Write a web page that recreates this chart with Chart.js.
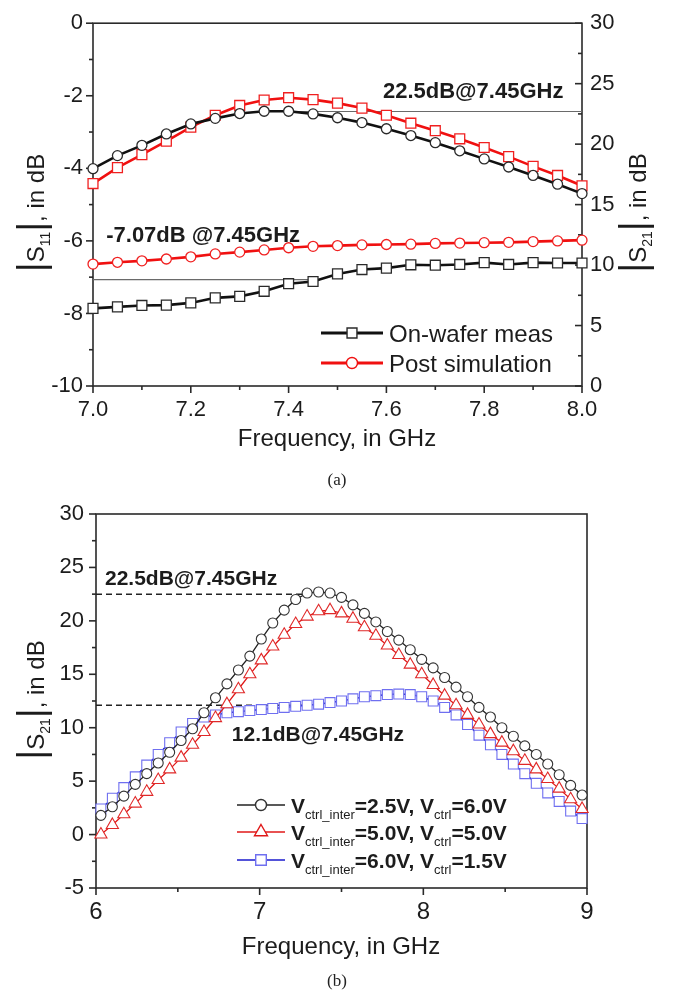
<!DOCTYPE html>
<html>
<head>
<meta charset="utf-8">
<script src="https://cdn.jsdelivr.net/npm/chart.js@4.4.0/dist/chart.umd.min.js"></script>
<style>
  body { margin: 0; background: #fff; width: 674px; height: 994px; position: relative; overflow: hidden; }
  canvas { position: absolute; left: 0; }
  #ca { top: 0; }
  #cb { top: 470px; }
  .cap { position: absolute; left: 0; width: 674px; text-align: center; font: 17px "Liberation Serif", "Times New Roman", serif; color: #222; line-height: 20px; }
</style>
</head>
<body>
<canvas id="ca" width="674" height="470"></canvas>
<canvas id="cb" width="674" height="524"></canvas>
<div class="cap" style="top:470px">(a)</div>
<div class="cap" style="top:971px">(b)</div>
<script>
// ---- (a) S11 / S21 vs frequency, 7-8 GHz ----
const freqA = [7.00, 7.05, 7.10, 7.15, 7.20, 7.25, 7.30, 7.35, 7.40, 7.45, 7.50,
               7.55, 7.60, 7.65, 7.70, 7.75, 7.80, 7.85, 7.90, 7.95, 8.00];
const s21MeasA = [17.97, 19.05, 19.90, 20.84, 21.67, 22.13, 22.53, 22.72, 22.72, 22.50, 22.18,
                  21.78, 21.27, 20.71, 20.12, 19.45, 18.78, 18.11, 17.41, 16.69, 15.91];
const s21SimA = [16.74, 18.06, 19.13, 20.25, 21.40, 22.39, 23.20, 23.65, 23.84, 23.68, 23.39,
                 22.98, 22.39, 21.73, 21.11, 20.44, 19.72, 18.97, 18.16, 17.41, 16.56];
const s11SimA = [-6.64, -6.59, -6.55, -6.50, -6.44, -6.36, -6.31, -6.25, -6.19, -6.15, -6.13,
                 -6.11, -6.10, -6.09, -6.07, -6.06, -6.05, -6.04, -6.02, -6.00, -5.98];
const s11MeasA = [-7.86, -7.82, -7.78, -7.77, -7.71, -7.57, -7.53, -7.39, -7.18, -7.12, -6.91,
                  -6.79, -6.75, -6.66, -6.67, -6.65, -6.60, -6.65, -6.60, -6.61, -6.61];
const xTicksA = [7.0, 7.2, 7.4, 7.6, 7.8, 8.0];
const s11TicksA = [-10, -8, -6, -4, -2, 0];
const s21TicksA = [0, 5, 10, 15, 20, 25, 30];
const legendA = ['On-wafer meas', 'Post simulation'];
const peakA = { level: 22.7, from: 7.4, to: 8.0, label: '22.5dB@7.45GHz' };
const s11MarkA = { level: -7.07, from: 7.0, to: 7.45, label: '-7.07dB @7.45GHz' };

// ---- (b) S21 for three bias settings, 6-9 GHz ----
const freqB = [6.03, 6.10, 6.17, 6.24, 6.31, 6.38, 6.45, 6.52, 6.59, 6.66, 6.73, 6.80, 6.87, 6.94,
               7.01, 7.08, 7.15, 7.22, 7.29, 7.36, 7.43, 7.50, 7.57, 7.64, 7.71, 7.78, 7.85, 7.92,
               7.99, 8.06, 8.13, 8.20, 8.27, 8.34, 8.41, 8.48, 8.55, 8.62, 8.69, 8.76, 8.83, 8.90, 8.97];
const s21BiasA = [1.8, 2.6, 3.6, 4.7, 5.7, 6.7, 7.7, 8.8, 9.9, 11.4, 12.8, 14.1, 15.4, 16.7,
                  18.3, 19.8, 21.0, 22.0, 22.6, 22.7, 22.6, 22.2, 21.5, 20.7, 19.9, 19.0, 18.2, 17.3,
                  16.4, 15.6, 14.7, 13.8, 12.9, 11.9, 11.0, 10.0, 9.2, 8.3, 7.5, 6.6, 5.6, 4.6, 3.7];
const s21BiasB = [0.0, 0.9, 1.9, 2.9, 4.0, 5.1, 6.1, 7.2, 8.4, 9.6, 10.9, 12.2, 13.6, 15.0,
                  16.3, 17.6, 18.7, 19.7, 20.4, 20.9, 21.0, 20.7, 20.2, 19.4, 18.6, 17.7, 16.8, 15.9,
                  15.0, 14.0, 13.0, 12.1, 11.2, 10.3, 9.4, 8.6, 7.8, 6.9, 6.1, 5.2, 4.3, 3.3, 2.4];
const s21BiasC = [2.4, 3.4, 4.4, 5.4, 6.5, 7.5, 8.6, 9.6, 10.4, 11.0, 11.2, 11.4, 11.5, 11.6,
                  11.7, 11.8, 11.9, 12.0, 12.1, 12.2, 12.35, 12.5, 12.7, 12.9, 13.0, 13.1, 13.15, 13.1,
                  12.9, 12.5, 11.9, 11.2, 10.3, 9.3, 8.4, 7.5, 6.6, 5.7, 4.8, 3.9, 3.1, 2.2, 1.5];
const xTicksB = [6, 7, 8, 9];
const yTicksB = [-5, 0, 5, 10, 15, 20, 25, 30];
const legendB = [['=2.5V, V', '=6.0V'], ['=5.0V, V', '=5.0V'], ['=6.0V, V', '=1.5V']];
const peakB = [
  { level: 22.5, from: 6, to: 7.27, label: '22.5dB@7.45GHz', at: 6.055, dy: -9 },
  { level: 12.1, from: 6, to: 7.27, label: '12.1dB@7.45GHz', at: 6.83, dy: 36 }
];

const SANS = '"Liberation Sans", Arial, Helvetica, sans-serif';
const INK = '#1c1c1c';
const pts = (xs, ys) => xs.map((x, i) => ({ x, y: ys[i] }));
const fixTicks = list => s => { s.ticks = list.map(v => ({ value: v })); };

function runs(ctx, items, x, y, align, rot) {
  ctx.save();
  ctx.translate(x, y);
  if (rot) ctx.rotate(rot);
  ctx.textBaseline = 'alphabetic';
  ctx.textAlign = 'left';
  let w = 0;
  items.forEach(r => { ctx.font = r.font; r.w = ctx.measureText(r.t).width; w += r.w; });
  let cx = align === 'center' ? -w / 2 : 0;
  items.forEach(r => { ctx.font = r.font; ctx.fillText(r.t, cx, r.dy || 0); cx += r.w; });
  ctx.restore();
}

function marker(ctx, style, x, y, r, color) {
  ctx.save();
  ctx.fillStyle = '#fff';
  ctx.strokeStyle = color;
  ctx.lineWidth = 1.4;
  ctx.beginPath();
  if (style === 'rect') {
    const h = r * Math.SQRT1_2;
    ctx.rect(x - h, y - h, 2 * h, 2 * h);
  } else if (style === 'triangle') {
    ctx.moveTo(x, y - r);
    ctx.lineTo(x + r * 0.866, y + r * 0.5);
    ctx.lineTo(x - r * 0.866, y + r * 0.5);
    ctx.closePath();
  } else {
    ctx.arc(x, y, r, 0, Math.PI * 2);
  }
  ctx.fill();
  ctx.stroke();
  ctx.restore();
}

// frame, minor/major ticks, reference lines, notes, titles, legend
const decor = {
  id: 'decor',
  beforeDatasetsDraw(chart, args, o) {
    const { ctx, chartArea: a } = chart;
    ctx.save();
    ctx.strokeStyle = '#2a2a2a';
    ctx.lineWidth = 1.6;
    ctx.strokeRect(a.left, a.top, a.right - a.left, a.bottom - a.top);
    (o.marks || []).forEach(m => {
      const s = chart.scales[m.axis];
      const vals = s.ticks.map(t => t.value);
      const all = [];
      vals.forEach((v, i) => {
        all.push([v, 7]);
        if (i < vals.length - 1) all.push([(v + vals[i + 1]) / 2, 4]);
      });
      all.forEach(([v, len]) => {
        const p = s.getPixelForValue(v);
        ctx.beginPath();
        if (m.side === 'bottom') { ctx.moveTo(p, a.bottom); ctx.lineTo(p, a.bottom + len); }
        if (m.side === 'left') { ctx.moveTo(a.left, p); ctx.lineTo(a.left - len, p); }
        if (m.side === 'right') { ctx.moveTo(a.right, p); ctx.lineTo(a.right - len, p); }
        ctx.stroke();
      });
    });
    (o.refs || []).forEach(r => {
      const sx = chart.scales.x, sy = chart.scales[r.axis];
      const y = sy.getPixelForValue(r.level);
      ctx.strokeStyle = r.color;
      ctx.lineWidth = r.width;
      ctx.setLineDash(r.dash || []);
      ctx.beginPath();
      ctx.moveTo(sx.getPixelForValue(r.from), y);
      ctx.lineTo(sx.getPixelForValue(r.to), y);
      ctx.stroke();
    });
    ctx.restore();
  },
  afterDatasetsDraw(chart, args, o) {
    const { ctx, chartArea: a } = chart;
    ctx.save();
    ctx.fillStyle = INK;
    (o.notes || []).forEach(n => {
      const x = chart.scales.x.getPixelForValue(n.at);
      const y = chart.scales[n.axis].getPixelForValue(n.level) + n.dy;
      runs(ctx, [{ t: n.label, font: n.font }], x, y, 'left');
    });
    (o.titles || []).forEach(t => runs(ctx, t.items, t.x, t.y, 'center', t.rot));
    (o.legend || []).forEach(l => {
      ctx.strokeStyle = l.color;
      ctx.lineWidth = l.lw;
      ctx.beginPath();
      ctx.moveTo(l.x0, l.y);
      ctx.lineTo(l.x1, l.y);
      ctx.stroke();
      marker(ctx, l.style, (l.x0 + l.x1) / 2, l.y, l.r, l.mcolor || l.color);
      ctx.fillStyle = INK;
      runs(ctx, l.items, l.x1 + 6, l.ty, 'left');
    });
    ctx.restore();
  }
};

function absTitle(sub, x, y) {
  return {
    x, y, rot: -Math.PI / 2,
    items: [
      { t: '|', font: '38px ' + SANS },
      { t: 'S', font: '24px ' + SANS },
      { t: sub, font: '14px ' + SANS, dy: 6 },
      { t: '|', font: '38px ' + SANS },
      { t: ', in dB', font: '24px ' + SANS }
    ]
  };
}

const baseAxis = (extra) => Object.assign({
  type: 'linear',
  grid: { display: false, drawTicks: false },
  border: { display: false }
}, extra);

// ----- chart (a) -----
new Chart(document.getElementById('ca'), {
  type: 'line',
  data: {
    datasets: [
      { data: pts(freqA, s21MeasA), yAxisID: 'y2', borderColor: '#111', borderWidth: 2.6,
        pointStyle: 'circle', pointRadius: 5, pointBorderColor: '#2a2a2a', pointBorderWidth: 1.3,
        pointBackgroundColor: '#fff', tension: 0, clip: false },
      { data: pts(freqA, s21SimA), yAxisID: 'y2', borderColor: '#f01010', borderWidth: 2.6,
        pointStyle: 'rect', pointRadius: 7, pointBorderColor: '#f02020', pointBorderWidth: 1.3,
        pointBackgroundColor: '#fff', tension: 0, clip: false },
      { data: pts(freqA, s11SimA), yAxisID: 'y', borderColor: '#f01010', borderWidth: 2.6,
        pointStyle: 'circle', pointRadius: 5, pointBorderColor: '#f02020', pointBorderWidth: 1.3,
        pointBackgroundColor: '#fff', tension: 0, clip: false },
      { data: pts(freqA, s11MeasA), yAxisID: 'y', borderColor: '#111', borderWidth: 2.6,
        pointStyle: 'rect', pointRadius: 7, pointBorderColor: '#2a2a2a', pointBorderWidth: 1.3,
        pointBackgroundColor: '#fff', tension: 0, clip: false }
    ]
  },
  options: {
    responsive: false, animation: false, devicePixelRatio: 1,
    layout: { padding: { top: 16, left: 0, right: 0, bottom: 0 } },
    plugins: {
      legend: { display: false }, tooltip: { enabled: false },
      decor: {
        marks: [{ axis: 'x', side: 'bottom' }, { axis: 'y', side: 'left' }, { axis: 'y2', side: 'right' }],
        refs: [
          { axis: 'y2', level: peakA.level, from: peakA.from, to: peakA.to, color: '#6a6a6a', width: 1.2 },
          { axis: 'y', level: s11MarkA.level, from: s11MarkA.from, to: s11MarkA.to, color: '#6a6a6a', width: 1.2 }
        ],
        notes: [
          { label: peakA.label, axis: 'y2', level: peakA.level, at: 7.593, dy: -13, font: 'bold 22px ' + SANS },
          { label: s11MarkA.label, axis: 'y', level: s11MarkA.level, at: 7.027, dy: -38, font: 'bold 22px ' + SANS }
        ],
        titles: [
          absTitle('11', 44, 213),
          absTitle('21', 646, 213),
          { x: 337, y: 446, items: [{ t: 'Frequency, in GHz', font: '24px ' + SANS }] }
        ],
        legend: [
          { x0: 321, x1: 383, y: 333, ty: 342, color: '#111', lw: 3, style: 'rect', r: 7, mcolor: '#2a2a2a',
            items: [{ t: legendA[0], font: '24px ' + SANS }] },
          { x0: 321, x1: 383, y: 363, ty: 372, color: '#f01010', lw: 3, style: 'circle', r: 5.5,
            items: [{ t: legendA[1], font: '24px ' + SANS }] }
        ]
      }
    },
    scales: {
      x: baseAxis({
        position: 'bottom', min: 7, max: 8,
        afterBuildTicks: fixTicks(xTicksA), afterFit: s => { s.height = 84; },
        ticks: { padding: 11, color: INK, font: { size: 22, family: SANS }, callback: v => v.toFixed(1) }
      }),
      y: baseAxis({
        position: 'left', min: -10, max: 0,
        afterBuildTicks: fixTicks(s11TicksA), afterFit: s => { s.width = 93; },
        ticks: { padding: 10, color: INK, font: { size: 22, family: SANS } }
      }),
      y2: baseAxis({
        position: 'right', min: 0, max: 30,
        afterBuildTicks: fixTicks(s21TicksA), afterFit: s => { s.width = 92; },
        ticks: { padding: 8, color: INK, font: { size: 22, family: SANS } }
      })
    }
  },
  plugins: [decor]
});

// ----- chart (b) -----
const subRow = (pair) => [
  { t: 'V', font: 'bold 21px ' + SANS },
  { t: 'ctrl_inter', font: '13px ' + SANS, dy: 6 },
  { t: pair[0], font: 'bold 21px ' + SANS },
  { t: 'ctrl', font: '13px ' + SANS, dy: 6 },
  { t: pair[1], font: 'bold 21px ' + SANS }
];

new Chart(document.getElementById('cb'), {
  type: 'line',
  data: {
    datasets: [
      { data: pts(freqB, s21BiasA), borderColor: '#222', borderWidth: 1.3,
        pointStyle: 'circle', pointRadius: 5, pointBorderColor: '#333', pointBorderWidth: 1.1,
        pointBackgroundColor: '#fff', tension: 0, clip: false },
      { data: pts(freqB, s21BiasB), borderColor: '#e01818', borderWidth: 1.3,
        pointStyle: 'triangle', pointRadius: 7, pointBorderColor: '#e02828', pointBorderWidth: 1.1,
        pointBackgroundColor: '#fff', tension: 0, clip: false },
      { data: pts(freqB, s21BiasC), borderColor: '#1a1acc', borderWidth: 1.5,
        pointStyle: 'rect', pointRadius: 7, pointBorderColor: '#6f6ff0', pointBorderWidth: 1.1,
        pointBackgroundColor: '#fff', tension: 0, clip: false }
    ]
  },
  options: {
    responsive: false, animation: false, devicePixelRatio: 1,
    layout: { padding: { top: 44, left: 0, right: 87, bottom: 0 } },
    plugins: {
      legend: { display: false }, tooltip: { enabled: false },
      decor: {
        marks: [{ axis: 'x', side: 'bottom' }, { axis: 'y', side: 'left' }],
        refs: peakB.map(p => ({ axis: 'y', level: p.level, from: p.from, to: p.to, color: '#222', width: 1.5, dash: [6, 4] })),
        notes: peakB.map(p => ({ label: p.label, axis: 'y', level: p.level, at: p.at, dy: p.dy, font: 'bold 21px ' + SANS })),
        titles: [
          absTitle('21', 44, 230),
          { x: 341, y: 484, items: [{ t: 'Frequency, in GHz', font: '24px ' + SANS }] }
        ],
        legend: [
          { x0: 237, x1: 285, y: 335, ty: 343, color: '#222', lw: 1.5, style: 'circle', r: 5.5, mcolor: '#333', items: subRow(legendB[0]) },
          { x0: 237, x1: 285, y: 362, ty: 370, color: '#e01818', lw: 1.5, style: 'triangle', r: 7.5, items: subRow(legendB[1]) },
          { x0: 237, x1: 285, y: 390, ty: 398, color: '#1a1acc', lw: 1.5, style: 'rect', r: 7.5, mcolor: '#6f6ff0', items: subRow(legendB[2]) }
        ]
      }
    },
    scales: {
      x: baseAxis({
        position: 'bottom', min: 6, max: 9,
        afterBuildTicks: fixTicks(xTicksB), afterFit: s => { s.height = 106; },
        ticks: { padding: 10, color: INK, font: { size: 24, family: SANS } }
      }),
      y: baseAxis({
        position: 'left', min: -5, max: 30,
        afterBuildTicks: fixTicks(yTicksB), afterFit: s => { s.width = 96; },
        ticks: { padding: 12, color: INK, font: { size: 22, family: SANS } }
      })
    }
  },
  plugins: [decor]
});
</script>
</body>
</html>
